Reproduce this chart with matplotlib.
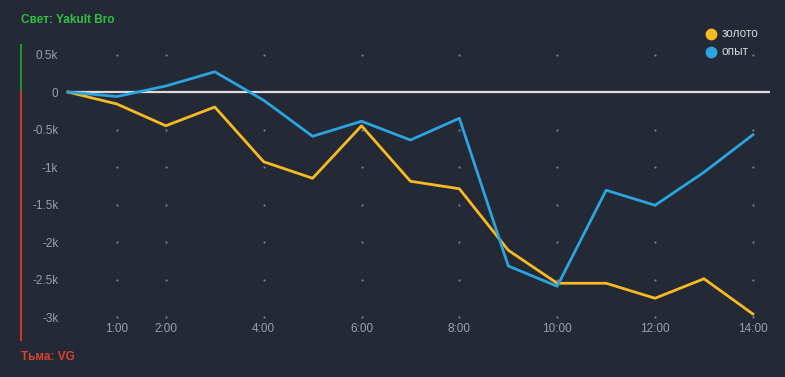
import numpy as np
import matplotlib
matplotlib.use("Agg")
import matplotlib.pyplot as plt
import matplotlib.transforms as mtransforms

# chart data
hours = list(range(15))
gold = [0, -160, -450, -200, -930, -1150, -450, -1190, -1290, -2110,
        -2550, -2550, -2750, -2490, -2960]
exp = [0, -60, 80, 270, -110, -590, -390, -640, -350, -2320,
       -2590, -1310, -1510, -1070, -570]
x_ticks = [1, 2, 4, 6, 8, 10, 12, 14]
x_labels = ["1:00", "2:00", "4:00", "6:00", "8:00", "10:00", "12:00", "14:00"]
y_ticks = [500, 0, -500, -1000, -1500, -2000, -2500, -3000]
y_labels = ["0.5k", "0", "-0.5k", "-1k", "-1.5k", "-2k", "-2.5k", "-3k"]
series_names = ["золото", "опыт"]
top_label = "Свет: Yakult Bro"
bottom_label = "Тьма: VG"

bg = "#242936"
txt = "#9ca0a8"
c_gold = "#f7b924"
c_blue = "#2ba4e0"

plt.rcParams['font.family'] = ['Liberation Sans', 'DejaVu Sans']

fig = plt.figure(figsize=(7.85, 3.77), dpi=100, facecolor=bg)
# axes spans from the 0.5k+ top down to just under -3k
ax = fig.add_axes([68 / 785, 57 / 377, 702 / 785, 275 / 377])
ax.set_facecolor(bg)
ax.set_xlim(0, 14.35)
ax.set_ylim(-3040, 627)

# dotted grid at tick intersections
gx, gy = np.meshgrid(x_ticks, [v for v in y_ticks if v != 0])
ax.scatter(gx.ravel(), gy.ravel(), s=2.5, color="#7b7f88", lw=0, zorder=1)

ax.axhline(0, color="#dcdcdc", lw=1.6, zorder=2)
ax.plot(hours, gold, color=c_gold, lw=2.0, zorder=3, clip_on=False)
ax.plot(hours, exp, color=c_blue, lw=2.0, zorder=4, clip_on=False)

for s in ax.spines.values():
    s.set_visible(False)
ax.set_xticks(x_ticks)
ax.set_xticklabels(x_labels)
ax.set_yticks(y_ticks)
ax.set_yticklabels(y_labels)
ax.tick_params(length=0, colors=txt, labelsize=8.5)
ax.tick_params(axis="x", pad=2)
ax.tick_params(axis="y", pad=7)

# side bar: green above zero, red below
trans = mtransforms.blended_transform_factory(ax.transAxes, ax.transData)
bx = (21 - 68) / 702
ax.plot([bx, bx], [0, 627], color="#1f9a2c", lw=1.4, transform=trans, clip_on=False)
ax.plot([bx, bx], [0, -3307], color="#e0332b", lw=1.4, transform=trans, clip_on=False)

fig.text(21 / 785, 1 - 20 / 377, top_label, color="#2fbf47", fontsize=8.5,
         fontweight="bold", va="center", ha="left")
fig.text(21 / 785, 1 - 357 / 377, bottom_label, color="#d8442e", fontsize=8.5,
         fontweight="bold", va="center", ha="left")

# legend
for i, (name, col) in enumerate(zip(series_names, [c_gold, c_blue])):
    yy = 1 - (34 + 18 * i) / 377
    fig.add_artist(plt.Line2D([711 / 785], [yy], marker="o", markersize=7.5,
                              color=col, transform=fig.transFigure, lw=0))
    fig.text(722 / 785, yy, name, color="#d4d6da", fontsize=8.5, va="center", ha="left")

fig.savefig("out.png", dpi=100, facecolor=bg)
